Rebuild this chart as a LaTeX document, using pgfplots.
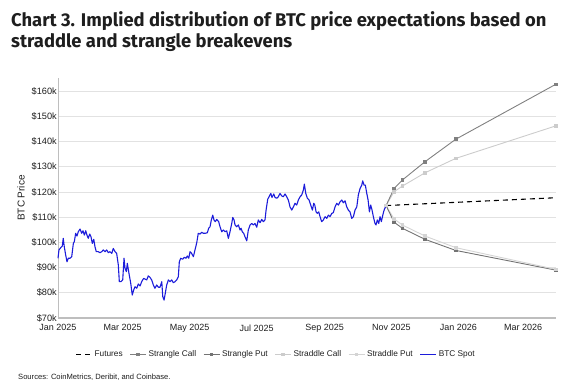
\documentclass[border=0pt]{standalone}
\usepackage{fontspec}
\setmainfont{Liberation Sans}
\newfontfamily\titlefont{Fira Sans}
\usepackage{pgfplots}
\pgfplotsset{compat=1.18}
\definecolor{btcblue}{RGB}{28,28,218}
\definecolor{strcall}{RGB}{128,128,128}
\definecolor{strput}{RGB}{115,115,115}
\definecolor{stdcall}{RGB}{204,204,204}
\definecolor{stdput}{RGB}{212,212,212}
\definecolor{gridc}{RGB}{226,226,226}
\definecolor{axc}{RGB}{190,190,190}
\definecolor{txt}{RGB}{30,30,30}
\begin{document}
\begin{tikzpicture}
\useasboundingbox (0pt,0pt) rectangle (574pt,387pt);
\node[anchor=north west, align=left, inner sep=0pt, text=txt,
  font=\titlefont\bfseries\fontsize{18.4}{21.7}\selectfont] at (11pt,376pt)
  {Chart 3. Implied distribution of BTC price expectations based on\\ straddle and strangle breakevens};
\begin{axis}[
  at={(58pt,69pt)}, anchor=south west,
  scale only axis, width=498pt, height=240pt,
  xmin=0, xmax=454, ymin=70, ymax=165.2,
  axis x line=bottom, axis y line=left,
  axis line style={-, axc},
  x axis line style={line width=1.3pt, axc},
  y axis line style={line width=0.6pt, axc},
  ytick={70,80,...,160},
  yticklabels={\$70k,\$80k,\$90k,\$100k,\$110k,\$120k,\$130k,\$140k,\$150k,\$160k},
  xtick={0,59,120,181,243,304,365,424},
  xticklabels={Jan 2025,Mar 2025,May 2025,Jul 2025,Sep 2025,Nov 2025,Jan 2026,Mar 2026},
  major tick length=0pt,
  ymajorgrids, grid style={gridc, line width=0.7pt},
  yticklabel style={font=\fontsize{9.2}{10}\selectfont, text=txt, inner sep=1pt},
  xticklabel style={font=\fontsize{9}{10}\selectfont, text=txt, inner sep=1pt, yshift=-5.5pt},
  ylabel={BTC Price},
  ylabel style={font=\fontsize{10}{11}\selectfont, text=txt, at={(axis description cs:-0.074,0.5)}, anchor=center},
  legend columns=6,
  legend style={draw=none, fill=none, at={(axis description cs:0.438,-0.152)}, anchor=center,
    font=\fontsize{8.3}{10}\selectfont, text=txt,
    /tikz/every even column/.append style={column sep=5pt}, inner sep=0pt},
  legend image code/.code={\draw[mark repeat=2,mark phase=2,#1] plot coordinates {(0pt,0pt)(8pt,0pt)(16pt,0pt)};},
  clip=false,
]
% Futures
\addplot[black, dashed, dash pattern=on 5pt off 4pt, line width=1.1pt] coordinates {(299.1,114.6)(453.8,117.7)};
\addlegendentry{Futures}
% Strangle Call
\addplot[strcall, line width=0.9pt, mark=square*, mark size=1.3pt, mark options={solid}] coordinates {
(306.4,121.4)(313.9,124.7)(334.6,132.0)(362.6,140.9)(453.8,162.7)};
\addlegendentry{Strangle Call}
% Strangle Put
\addplot[strput, line width=0.9pt, mark=square*, mark size=1.3pt, mark options={solid}] coordinates {
(306.4,108.0)(313.9,105.6)(334.6,101.2)(362.6,96.8)(453.8,89.0)};
\addlegendentry{Strangle Put}
% Straddle Call
\addplot[stdcall, line width=0.9pt, mark=square*, mark size=1.3pt, mark options={solid}] coordinates {
(299.1,114.6)(306.4,120.1)(313.9,122.3)(334.6,127.6)(362.6,133.3)(453.8,146.2)};
\addlegendentry{Straddle Call}
% Straddle Put
\addplot[stdput, line width=0.9pt, mark=square*, mark size=1.3pt, mark options={solid}] coordinates {
(299.1,114.6)(306.4,109.3)(313.9,106.9)(334.6,102.5)(362.6,97.9)(453.8,89.3)};
\addlegendentry{Straddle Put}
\addplot[strcall, line width=0.9pt, forget plot] coordinates {(299.1,114.6)(306.4,121.4)};
\addplot[strput, line width=0.9pt, forget plot] coordinates {(299.1,114.6)(306.4,108.0)};
% BTC Spot
\addplot[btcblue, line width=1.1pt, line join=round] coordinates {
(0,93.7)(0.9,97.0)(2.7,98.0)(3.9,98.5)(4.8,101.6)(5.7,98.3)(7.0,95.0)(8.2,92.3)(9.4,93.7)(10.9,93.7)
(12.5,94.3)(14.0,99.6)(14.9,100.3)(16.1,103.6)(17.3,102.5)(18.5,104.2)(20.1,105.3)(21.6,103.6)(22.8,104.6)(24.0,102.9)
(25.3,104.6)(26.4,102.9)(27.6,101.6)(28.9,103.3)(30.1,102.2)(31.3,99.6)(32.6,101.2)(33.7,98.3)(34.9,96.3)(36.7,96.3)
(38.3,95.9)(39.8,96.3)(41.3,97.0)(42.9,96.3)(44.4,97.0)(45.9,95.9)(47.4,96.3)(49.0,95.6)(50.4,97.6)(52.0,96.3)
(53.5,95.6)(55.0,91.0)(55.9,84.4)(57.4,84.4)(59.0,85.1)(60.2,93.7)(61.1,89.7)(62.3,88.4)(63.2,91.7)(64.7,87.7)
(66.3,83.8)(67.7,79.1)(69.0,81.1)(70.2,82.4)(71.8,81.8)(73.2,83.5)(74.8,82.7)(76.3,84.4)(77.2,85.1)(78.1,85.7)
(80.9,85.1)(82.3,86.7)(83.9,86.1)(85.4,85.1)(86.9,83.1)(88.4,81.8)(90.0,83.1)(91.5,82.2)(93.0,82.2)(94.6,84.4)
(95.5,78.5)(96.7,77.1)(97.8,79.8)(99.1,83.1)(100.6,85.1)(102.1,84.4)(103.7,85.1)(105.1,84.0)(106.7,84.4)(108.2,85.1)
(109.7,86.4)(110.6,92.3)(111.9,93.7)(113.7,93.3)(115.2,94.1)(116.7,93.7)(117.9,94.6)(119.2,93.7)(120.4,96.3)(121.9,95.6)
(123.4,94.3)(124.9,97.0)(126.5,99.9)(127.9,103.6)(129.5,103.3)(131.0,104.0)(132.5,103.6)(134.3,103.6)(136.1,103.8)(137.4,105.6)
(138.6,106.2)(139.8,108.9)(141.1,110.8)(142.2,108.9)(143.4,108.2)(144.7,109.1)(146.5,108.2)(147.7,106.2)(149.3,104.2)(150.7,104.9)
(152.3,104.2)(153.8,104.6)(155.3,101.6)(156.8,104.2)(158.4,107.5)(159.3,109.9)(160.5,108.9)(161.4,106.9)(162.9,106.2)(164.4,106.9)
(166.0,104.9)(166.9,105.6)(168.0,104.2)(169.3,103.6)(170.5,102.2)(172.1,100.6)(173.5,104.9)(175.1,106.9)(176.6,107.5)(178.1,106.9)
(179.6,107.5)(181.2,106.0)(182.6,108.9)(184.2,107.8)(185.7,109.1)(187.2,108.2)(188.7,108.9)(189.7,112.8)(191.2,117.1)(192.4,118.1)
(194.0,119.4)(195.1,117.8)(196.7,119.2)(197.9,117.8)(199.4,117.5)(200.9,118.1)(202.4,119.4)(204.0,118.4)(205.4,118.1)(207.0,119.2)
(208.5,118.1)(210.0,116.8)(211.5,114.1)(213.1,112.8)(214.6,114.1)(216.1,115.5)(217.6,114.8)(219.1,116.8)(220.7,118.1)(222.2,118.8)
(223.7,120.8)(224.6,123.1)(225.9,119.4)(227.3,117.5)(228.9,116.8)(230.4,114.8)(231.9,112.8)(233.2,115.5)(234.1,114.8)(235.3,112.1)
(236.4,111.5)(237.7,112.1)(238.9,110.2)(240.4,108.2)(241.9,108.9)(243.5,110.2)(245.0,109.5)(246.5,110.8)(248.0,110.2)(249.6,111.5)
(251.0,111.8)(252.6,114.1)(254.1,115.5)(255.6,114.8)(257.1,116.1)(258.7,116.8)(260.1,115.7)(261.7,116.5)(263.2,114.1)(264.7,112.8)
(266.2,112.1)(267.8,109.5)(269.3,110.2)(270.8,112.8)(272.4,114.1)(273.8,118.8)(275.4,121.4)(276.9,122.7)(277.8,124.4)(279.0,122.7)
(280.2,122.7)(281.5,119.4)(282.7,116.8)(283.9,112.1)(285.1,114.8)(286.3,112.8)(287.5,110.2)(289.0,107.5)(289.9,106.9)(291.1,108.9)
(292.4,107.5)(293.6,110.2)(294.8,108.2)(296.1,110.8)(297.3,112.8)(299.1,114.6)};
\addlegendentry{BTC Spot}
\end{axis}
\node[anchor=west, inner sep=0pt, text=txt] at (18pt,10pt) {\fontsize{7.6}{9}\selectfont Sources: CoinMetrics, Deribit, and Coinbase.};
\end{tikzpicture}
\end{document}
